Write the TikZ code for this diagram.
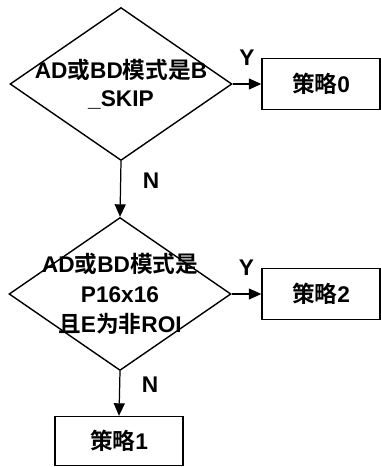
\documentclass[tikz,border=0pt]{standalone}
\usepackage{fontspec}
\setmainfont{Liberation Sans}
\newfontfamily\zhfont{Noto Sans CJK SC}[BoldFont={Noto Sans CJK SC Bold}]
\newcommand{\zh}[1]{{\zhfont\bfseries #1}}
\usetikzlibrary{shapes.geometric,arrows.meta}

\begin{document}
\begin{tikzpicture}[x=0.02cm,y=-0.02cm,
    every node/.style={font=\fontsize{12.9}{16}\selectfont\bfseries},
    decision/.style={draw,diamond,line width=0.8pt,minimum width=4.44cm,minimum height=3.06cm,inner sep=0pt},
    strategy/.style={draw,rectangle,line width=0.8pt,minimum width=2.36cm,minimum height=1.02cm},
    flow/.style={-{Triangle[length=0.25cm,width=0.22cm]},line width=0.7pt}]
    \useasboundingbox (0,0) rectangle (381,467);
    % first test: B_SKIP
    \node[decision] (d1) at (121,84) {};
    \node[align=center] (t1) at (d1) {AD\zh{或}BD\zh{模式是}B\\\_SKIP};
    \node[strategy] (s0) at (321,84) {\zh{策略}0};
    \draw[flow] (d1.east) -- (s0.west) node[midway,above=7pt] {Y};
    % second test: P16x16 and non-ROI
    \node[decision] (d2) at (120,294) {};
    \node[align=center,font=\fontsize{12.9}{17.2}\selectfont\bfseries] (t2) at (d2) {AD\zh{或}BD\zh{模式是}\\P16x16\\\zh{且}E\zh{为非}ROI};
    \node[strategy] (s2) at (321,294) {\zh{策略}2};
    \draw[flow] (d2.east) -- (s2.west) node[midway,above=7pt] {Y};
    \draw[flow] (d1.south) -- (d2.north) node[pos=0.35,right=9pt] {N};
    \node[strategy,minimum width=2.56cm,minimum height=0.98cm] (s1) at (119,441) {\zh{策略}1};
    \draw[flow] (d2.south) -- (s1.north) node[pos=0.3,right=9pt] {N};
\end{tikzpicture}
\end{document}
